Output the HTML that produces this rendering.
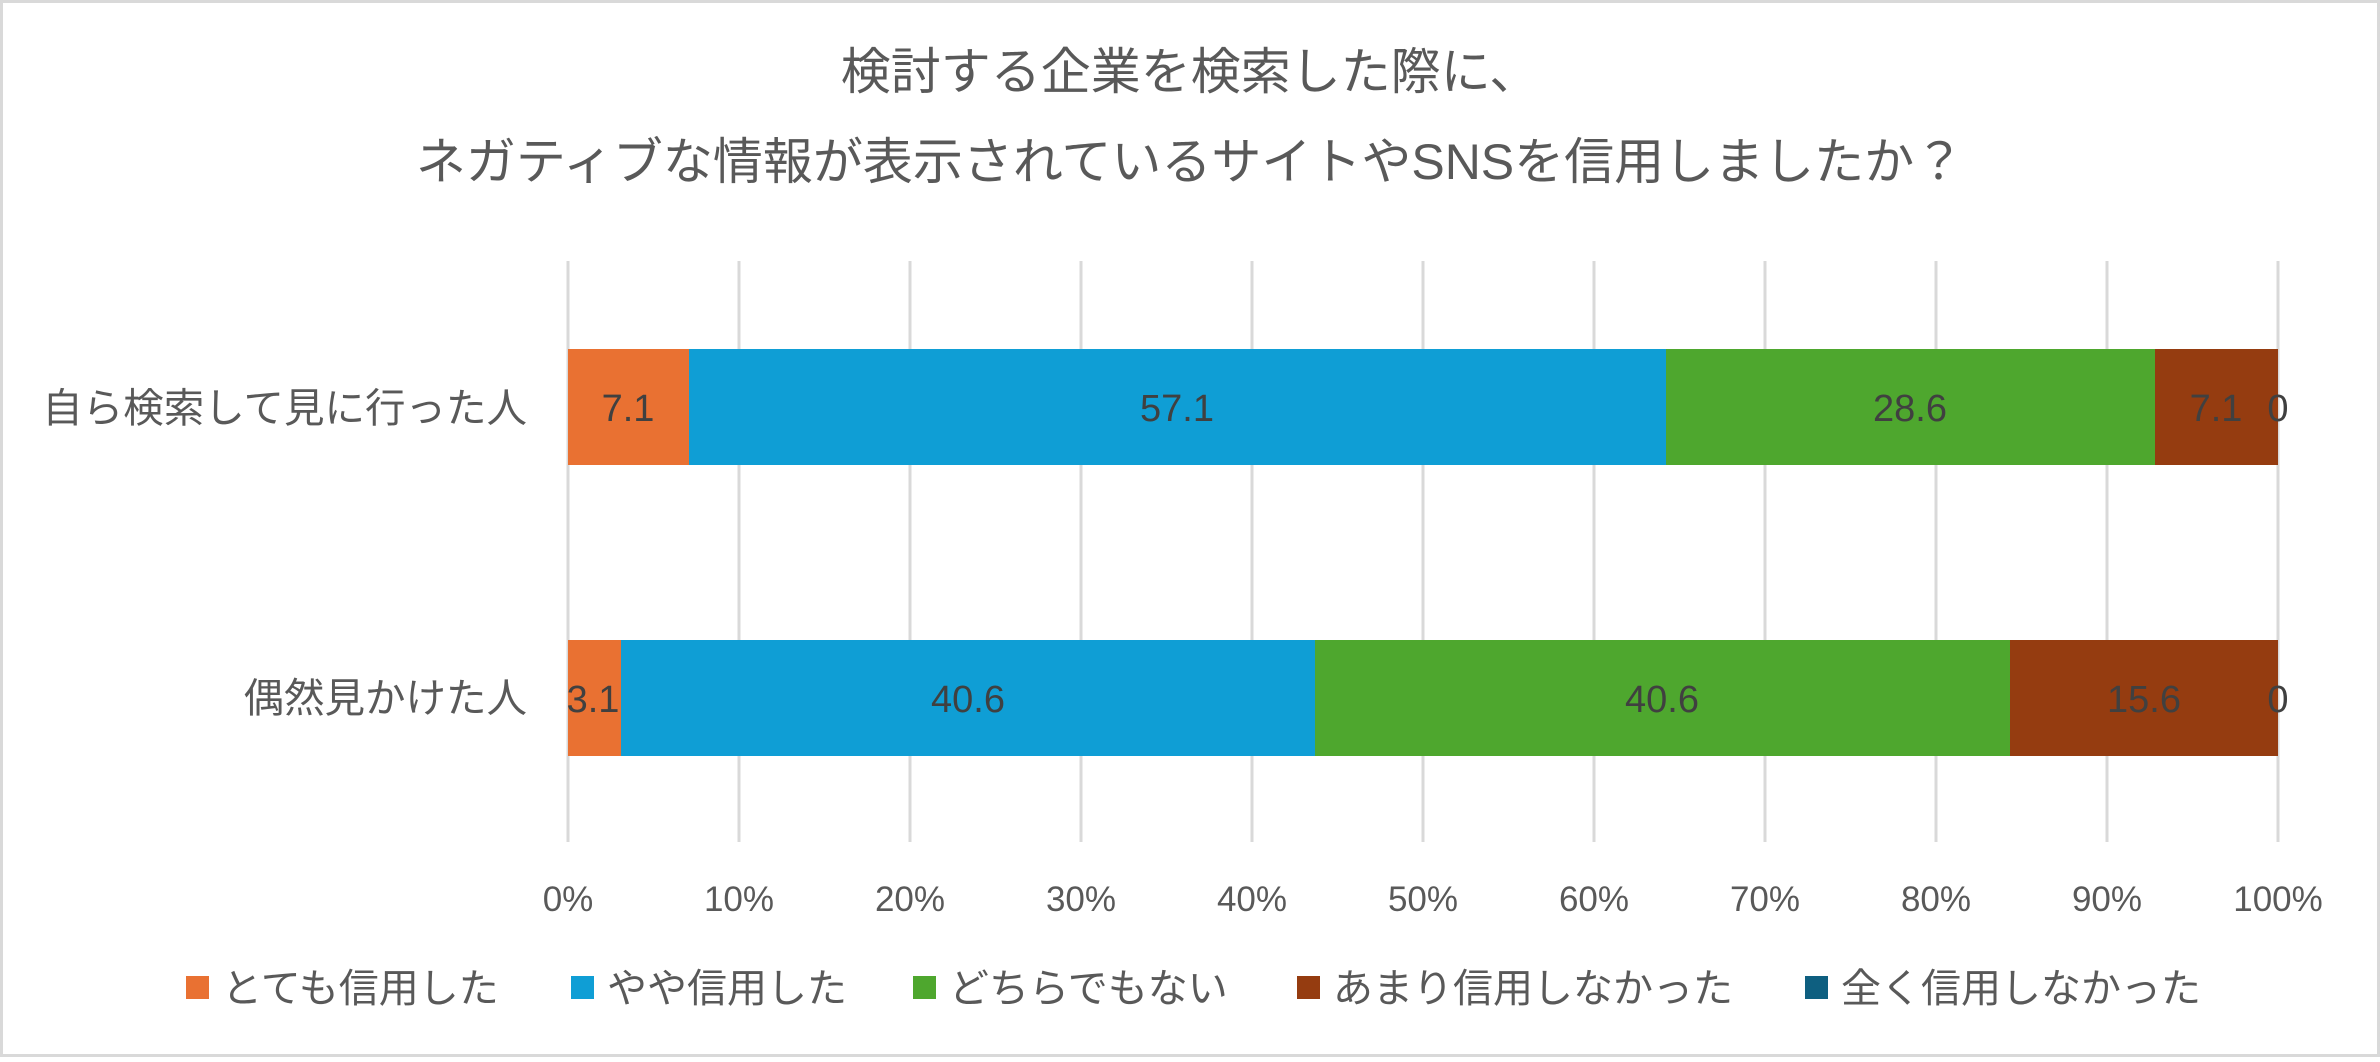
<!DOCTYPE html>
<html><head><meta charset="utf-8"><style>
body{margin:0;background:#fff}
svg text{font-family:"Liberation Sans","Noto Sans CJK JP",sans-serif}
</style></head><body>
<svg width="2380" height="1057" xmlns="http://www.w3.org/2000/svg">
<rect x="1.5" y="1.5" width="2377" height="1054" fill="#fff" stroke="#d9d9d9" stroke-width="3"/>
<g fill="#595959" font-size="50" text-anchor="middle">
<text x="1190" y="89">検討する企業を検索した際に、</text>
<text x="1190" y="179">ネガティブな情報が表示されているサイトやSNSを信用しましたか？</text>
</g>
<g stroke="#d9d9d9" stroke-width="3">
<line x1="568" y1="261" x2="568" y2="842"/><line x1="739" y1="261" x2="739" y2="842"/>
<line x1="910" y1="261" x2="910" y2="842"/><line x1="1081" y1="261" x2="1081" y2="842"/>
<line x1="1252" y1="261" x2="1252" y2="842"/><line x1="1423" y1="261" x2="1423" y2="842"/>
<line x1="1594" y1="261" x2="1594" y2="842"/><line x1="1765" y1="261" x2="1765" y2="842"/>
<line x1="1936" y1="261" x2="1936" y2="842"/><line x1="2107" y1="261" x2="2107" y2="842"/>
<line x1="2278" y1="261" x2="2278" y2="842"/>
</g>
<rect x="568" y="349" width="121" height="116" fill="#E97132"/>
<rect x="689" y="349" width="977" height="116" fill="#0F9ED5"/>
<rect x="1666" y="349" width="489" height="116" fill="#4EA72E"/>
<rect x="2155" y="349" width="123" height="116" fill="#953C10"/>
<rect x="568" y="640" width="53" height="116" fill="#E97132"/>
<rect x="621" y="640" width="694" height="116" fill="#0F9ED5"/>
<rect x="1315" y="640" width="695" height="116" fill="#4EA72E"/>
<rect x="2010" y="640" width="268" height="116" fill="#953C10"/>
<g fill="#404040" font-size="38" text-anchor="middle">
<text x="628" y="421">7.1</text><text x="1177" y="421">57.1</text><text x="1910" y="421">28.6</text><text x="2216" y="421">7.1</text><text x="2278" y="421">0</text>
<text x="593" y="712">3.1</text><text x="968" y="712">40.6</text><text x="1662" y="712">40.6</text><text x="2144" y="712">15.6</text><text x="2278" y="712">0</text>
</g>
<g fill="#595959" font-size="40.5" text-anchor="end">
<text x="527" y="422">自ら検索して見に行った人</text>
<text x="527" y="712">偶然見かけた人</text>
</g>
<g fill="#595959" font-size="35" text-anchor="middle">
<text x="568" y="911">0%</text><text x="739" y="911">10%</text><text x="910" y="911">20%</text><text x="1081" y="911">30%</text><text x="1252" y="911">40%</text><text x="1423" y="911">50%</text><text x="1594" y="911">60%</text><text x="1765" y="911">70%</text><text x="1936" y="911">80%</text><text x="2107" y="911">90%</text><text x="2278" y="911">100%</text>
</g>
<g font-size="40" fill="#595959">
<rect x="186" y="976" width="23" height="23" fill="#E97132"/><text x="222" y="1002">とても信用した</text>
<rect x="571" y="976" width="23" height="23" fill="#0F9ED5"/><text x="607" y="1002">やや信用した</text>
<rect x="913" y="976" width="23" height="23" fill="#4EA72E"/><text x="949" y="1002">どちらでもない</text>
<rect x="1297" y="976" width="23" height="23" fill="#953C10"/><text x="1333" y="1002">あまり信用しなかった</text>
<rect x="1805" y="976" width="23" height="23" fill="#0E5F80"/><text x="1841" y="1002">全く信用しなかった</text>
</g>
</svg>
</body></html>
